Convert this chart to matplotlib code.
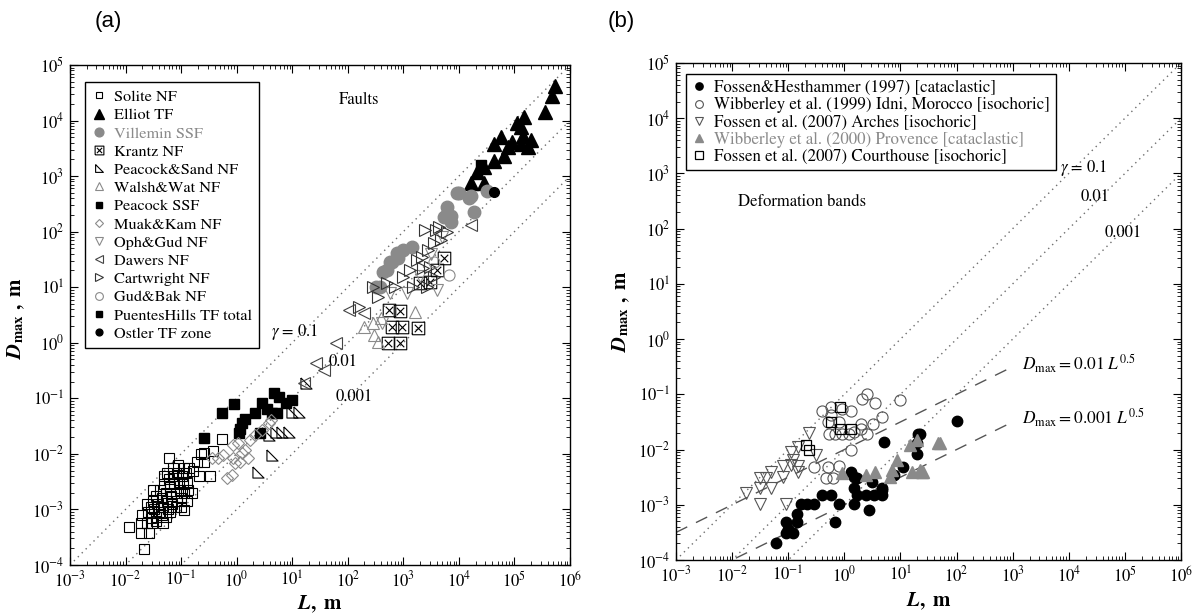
import numpy as np
import matplotlib
matplotlib.use('Agg')
import matplotlib.pyplot as plt
from matplotlib.path import Path
from matplotlib.ticker import LogLocator, NullFormatter

plt.rcParams['font.family'] = ['STIXGeneral', 'DejaVu Serif']
plt.rcParams['mathtext.fontset'] = 'stix'

GRAY = '#8a8a8a'

# ---- panel (a) data, (log10 L, log10 Dmax) ----
solite = [(-1.94,-3.31),(-1.73,-3.25),(-1.61,-3.25),(-1.73,-3.43),(-1.58,-3.43),(-1.67,-3.72),
          (-1.52,-3.25),(-1.33,-3.25),(-1.46,-3.13),(-1.27,-3.13),(-0.94,-3.01),(-1.21,-2.08),
          (-0.27,-1.74),(-0.42,-1.94),(-0.58,-1.98),(-0.58,-2.14),(-0.48,-2.40),(-0.85,-2.26),
          (-1.60,-3.05),(-1.55,-2.95),(-1.50,-2.85),(-1.48,-3.00),(-1.45,-2.75),(-1.42,-2.90),
          (-1.40,-3.05),(-1.38,-2.65),(-1.35,-2.80),(-1.33,-2.95),(-1.30,-2.55),(-1.28,-2.70),
          (-1.26,-2.85),(-1.24,-3.00),(-1.22,-2.45),(-1.20,-2.60),(-1.18,-2.75),(-1.16,-2.90),
          (-1.14,-2.40),(-1.12,-2.55),(-1.10,-2.70),(-1.08,-2.85),(-1.06,-2.35),(-1.04,-2.50),
          (-1.02,-2.65),(-1.00,-2.80),(-0.98,-2.40),(-0.96,-2.55),(-0.94,-2.70),(-0.92,-2.35),
          (-0.90,-2.50),(-0.88,-2.65),(-1.55,-3.15),(-1.45,-3.20),(-1.35,-3.10),(-1.25,-2.35),
          (-1.15,-2.25),(-1.05,-2.20),(-0.95,-2.25),(-1.30,-2.40),(-1.50,-2.65),(-1.62,-2.90),
          (-1.70,-3.10),(-1.20,-3.05),(-1.10,-2.95),(-1.00,-2.95),(-0.90,-2.85),(-0.80,-2.70),
          (-0.78,-2.30),(-0.72,-2.15),(-0.68,-2.40),(-0.65,-2.00)]
elliot = [(5.73,4.63),(5.67,4.45),(5.55,4.15),(5.18,4.06),(5.12,3.88),(5.15,3.73),(4.76,3.70),
          (4.64,3.58),(4.88,3.52),(5.12,3.58),(5.24,3.52),(4.82,3.37),(4.64,3.28),(4.45,3.16),
          (4.33,3.07),(4.21,2.87),(4.45,2.87),(5.05,3.95),(4.95,3.62),(5.30,3.65)]
villemin = [(3.97,2.69),(4.18,2.60),(3.79,2.45),(3.85,2.29),(4.27,2.35),(3.73,2.27),(3.00,1.67),
            (2.91,1.52),(2.79,1.46),(2.70,1.31),(2.64,1.28),(2.58,1.01),(3.15,1.72),(4.00,2.69),
            (4.21,2.65),(4.51,2.74),(3.79,2.32),(3.85,2.17),(2.88,1.61),(2.76,1.46),(2.51,1.01)]
krantz = [(2.75,0.59),(2.94,0.58),(2.79,0.29),(2.97,0.29),(3.27,0.26),(2.73,0.00),(2.94,0.00),
          (3.73,1.52),(3.61,1.31),(3.48,1.10),(3.30,1.07)]
peacock_sand = [(0.58,-1.66),(0.70,-1.60),(0.82,-1.60),(0.94,-1.60),(1.12,-1.24),(1.00,-1.24),
                (0.64,-2.02),(0.39,-2.32),(1.24,-0.73)]
walsh = [(3.21,0.56),(2.30,0.29),(2.48,0.14),(2.55,0.02),(2.45,0.35),(2.60,0.45)]
peacock_ssf = [(-0.59,-1.72),(-0.26,-1.27),(-0.04,-1.11),(0.06,-1.56),(0.15,-1.38),(0.33,-1.27),
               (0.42,-1.62),(0.45,-1.09),(0.64,-1.27),(0.67,-0.91),(0.73,-1.27),(0.76,-0.97),
               (0.88,-1.09),(1.00,-1.03),(0.10,-1.45),(0.05,-1.62),(0.55,-1.20)]
muak = [(-0.18,-2.44),(-0.09,-2.38),(-0.03,-2.17),(0.06,-2.14),(0.21,-2.08),(-0.06,-2.08),
        (0.09,-1.99),(0.15,-1.93),(0.03,-1.81),(0.24,-1.75),(0.33,-1.66),(0.45,-1.57),
        (0.58,-1.45),(0.61,-1.39),(-0.33,-2.08),(-0.45,-2.08),(-0.24,-2.02),(-0.06,-1.84)]
oph = [(2.61,0.35),(3.61,0.95),(3.06,0.89),(2.76,0.89),(3.30,1.20),(3.50,1.60),(3.70,1.90)]
dawers = [(2.03,0.59),(2.30,0.53),(1.79,-0.01),(1.42,-0.37),(1.58,-0.49),(1.21,-0.73),(4.21,2.12)]
cartwright = [(2.45,1.01),(2.55,0.83),(2.70,1.07),(2.85,1.01),(3.00,1.19),(3.12,1.31),(3.24,1.49),
              (3.33,1.55),(3.36,1.34),(3.48,1.37),(3.45,1.67),(3.55,1.79),(3.58,2.03),(3.64,2.09),
              (3.67,1.85),(3.55,1.19),(3.42,1.01),(3.18,1.01),(3.39,2.03),(3.79,2.00),(2.20,0.65)]
gud = [(3.82,1.22),(3.55,1.45)]
puentes = [(4.40,3.20)]
ostler = [(4.64,2.71)]

# ---- panel (b) data ----
fossen_h = [(-1.22,-3.69),(-1.04,-3.52),(-0.92,-3.52),(-1.01,-3.43),(-1.04,-3.31),(-0.84,-3.31),
            (-0.85,-3.16),(-0.78,-2.99),(-0.66,-2.99),(-0.54,-2.99),(-0.39,-2.83),(-0.24,-2.83),
            (-0.16,-3.31),(-0.09,-2.99),(0.11,-2.40),(0.17,-2.49),(0.23,-2.52),(0.17,-2.70),
            (0.23,-2.83),(0.38,-2.83),(0.53,-2.83),(0.67,-2.83),(0.17,-2.99),(0.44,-3.10),
            (0.49,-2.58),(0.67,-2.70),(0.70,-1.86),(1.05,-2.31),(1.32,-1.71),(1.29,-1.89),
            (1.29,-2.08),(0.88,-2.46),(2.00,-1.48),(1.35,-1.72),(0.67,-2.73)]
wibb99 = [(-0.39,-1.30),(-0.24,-1.23),(-0.24,-1.38),(-0.04,-1.26),(0.11,-1.30),(0.32,-1.08),
          (0.41,-1.00),(0.55,-1.16),(1.00,-1.11),(-0.30,-1.50),(-0.09,-1.50),(0.29,-1.53),
          (0.67,-1.41),(0.51,-1.53),(-0.27,-1.71),(-0.16,-1.71),(-0.04,-1.71),(0.08,-1.71),
          (0.17,-1.68),(0.29,-1.62),(0.41,-1.71),(0.11,-2.00),(-0.54,-2.31),(-0.30,-2.31),
          (-0.09,-2.30),(-0.33,-2.52),(-0.21,-2.52)]
arches = [(-0.63,-1.70),(-0.95,-2.04),(-0.83,-1.96),(-0.92,-2.19),(-1.10,-2.30),(-0.95,-2.28),
          (-0.83,-2.30),(-0.83,-2.40),(-1.31,-2.40),(-1.51,-2.52),(-1.40,-2.52),(-1.10,-2.50),
          (-1.51,-2.70),(-1.31,-2.70),(-1.75,-2.79),(-1.51,-2.99),(-1.04,-2.99),(-0.51,-2.10)]
wibb00 = [(-0.04,-2.43),(0.38,-2.46),(0.55,-2.40),(0.82,-2.49),(0.85,-2.37),(1.17,-1.92),
          (1.35,-2.37),(1.41,-2.40),(1.67,-1.88),(0.94,-2.19),(1.29,-1.83),(1.70,-1.89),
          (1.20,-2.40),(1.38,-2.40)]
courthouse = [(-0.07,-1.23),(-0.24,-1.50),(-0.07,-1.62),(0.11,-1.62),(-0.69,-1.92),(-0.63,-2.01)]

gammas = [0.1, 0.01, 0.001]
coefs = [0.01, 0.001]

# custom markers
boxx = Path([(-1,-1),(1,-1),(1,1),(-1,1),(-1,-1),(-0.6,-0.6),(0.6,0.6),(-0.6,0.6),(0.6,-0.6)],
            [1,2,2,2,2,1,2,1,2])
rtri = Path([(-1,1),(-1,-1),(1,-1),(-1,1)], [1,2,2,2])


def pts(a):
    a = np.array(a)
    return 10.0**a[:, 0], 10.0**a[:, 1]


def setup(ax):
    ax.set_xscale('log')
    ax.set_yscale('log')
    ax.set_xlim(1e-3, 1e6)
    ax.set_ylim(1e-4, 1e5)
    ax.set_xticks([10.0**k for k in range(-3, 7)])
    ax.set_yticks([10.0**k for k in range(-4, 6)])
    for axis in (ax.xaxis, ax.yaxis):
        axis.set_minor_locator(LogLocator(base=10, subs=np.arange(2, 10), numticks=100))
        axis.set_minor_formatter(NullFormatter())
    ax.tick_params(which='both', direction='in', top=True, right=True, labelsize=12)
    ax.tick_params(which='major', length=6, width=0.8, pad=4)
    ax.tick_params(which='minor', length=3, width=0.6)
    for s in ax.spines.values():
        s.set_linewidth(1.0)
    ax.set_xlabel(r'$\mathbfit{L}\mathbf{,\ m}$', fontsize=15)
    ax.set_ylabel(r'$\mathbfit{D}_{\mathbf{max}}\mathbf{\ ,\ m}$', fontsize=15)
    lx = np.array([1e-3, 1e6])
    for g in gammas:
        ax.plot(lx, g * lx, color='#6e6e6e', lw=1.0, ls=(0, (1, 3)), zorder=1)


fig = plt.figure(figsize=(11.98, 6.16), dpi=100)
ax1 = fig.add_axes([0.0584, 0.0828, 0.4174, 0.8117])
ax2 = fig.add_axes([0.5643, 0.0909, 0.4215, 0.8068])
setup(ax1)
setup(ax2)
ax1.yaxis.set_label_coords(-0.086, 0.494)
ax2.yaxis.set_label_coords(-0.087, 0.5)
ax1.xaxis.set_label_coords(0.5, -0.058)
ax2.xaxis.set_label_coords(0.5, -0.062)

# panel (a)
kw = dict(ls='none')
ax1.plot(*pts(solite), marker='s', ms=7, mfc='none', mec='k', mew=0.8, label='Solite NF', **kw)
ax1.plot(*pts(elliot), marker='^', ms=9.5, mfc='k', mec='k', label='Elliot TF', **kw)
ax1.plot(*pts(villemin), marker='o', ms=9, mfc=GRAY, mec=GRAY, label='Villemin SSF', **kw)
ax1.plot(*pts(krantz), marker=boxx, ms=9, mfc='none', mec='k', mew=0.8, label='Krantz NF', **kw)
ax1.plot(*pts(peacock_sand), marker=rtri, ms=8, mfc='none', mec='k', mew=0.8, label='Peacock&Sand NF', **kw)
ax1.plot(*pts(walsh), marker='^', ms=8, mfc='none', mec=GRAY, mew=0.8, label='Walsh&Wat NF', **kw)
ax1.plot(*pts(peacock_ssf), marker='s', ms=7, mfc='k', mec='k', label='Peacock SSF', **kw)
ax1.plot(*pts(muak), marker='D', ms=6.5, mfc='none', mec=GRAY, mew=0.8, label='Muak&Kam NF', **kw)
ax1.plot(*pts(oph), marker='v', ms=8, mfc='none', mec=GRAY, mew=0.8, label='Oph&Gud NF', **kw)
ax1.plot(*pts(dawers), marker='<', ms=8, mfc='none', mec='#444444', mew=0.8, label='Dawers NF', **kw)
ax1.plot(*pts(cartwright), marker='>', ms=9, mfc='none', mec='#333333', mew=0.8, label='Cartwright NF', **kw)
ax1.plot(*pts(gud), marker='o', ms=8, mfc='none', mec=GRAY, mew=0.8, label='Gud&Bak NF', **kw)
ax1.plot(*pts(puentes), marker='s', ms=7, mfc='k', mec='k', label='PuentesHills TF total', **kw)
ax1.plot(*pts(ostler), marker='o', ms=7, mfc='k', mec='k', label='Ostler TF zone', **kw)

leg1 = ax1.legend(loc='upper left', bbox_to_anchor=(0.031, 0.965), borderaxespad=0,
                  fontsize=11.7, handlelength=0.8, handletextpad=0.5, labelspacing=0.235,
                  borderpad=0.45, fancybox=False, edgecolor='k', framealpha=1, markerscale=0.7)
leg1.get_frame().set_linewidth(1.0)
leg1.get_texts()[2].set_color(GRAY)

ax1.text(10**1.05, 10**0.2, r'$\gamma$ = 0.1', fontsize=12, ha='center', va='center')
ax1.text(10**1.92, 10**-0.34, '0.01', fontsize=12, ha='center', va='center')
ax1.text(10**2.12, 10**-0.97, '0.001', fontsize=12, ha='center', va='center')
ax1.text(10**2.2, 10**4.37, 'Faults', fontsize=12, ha='center', va='center')

# panel (b)
lb = np.array([1e-3, 1e3])
for c in coefs:
    ax2.plot(lb, c * lb**0.5, color='#555555', lw=1.0, ls=(0, (9, 7)), zorder=1)
ax2.plot(*pts(fossen_h), marker='o', ms=7.5, mfc='k', mec='k',
         label='Fossen&Hesthammer (1997) [cataclastic]', **kw)
ax2.plot(*pts(wibb99), marker='o', ms=8, mfc='none', mec='#555555', mew=0.8,
         label='Wibberley et al. (1999) Idni, Morocco [isochoric]', **kw)
ax2.plot(*pts(arches), marker='v', ms=8.5, mfc='none', mec='#555555', mew=0.8,
         label='Fossen et al. (2007) Arches [isochoric]', **kw)
ax2.plot(*pts(wibb00), marker='^', ms=8, mfc=GRAY, mec=GRAY,
         label='Wibberley et al. (2000) Provence [cataclastic]', **kw)
ax2.plot(*pts(courthouse), marker='s', ms=7.5, mfc='none', mec='k', mew=0.9,
         label='Fossen et al. (2007) Courthouse [isochoric]', **kw)

leg2 = ax2.legend(loc='upper left', bbox_to_anchor=(0.0198, 0.977), borderaxespad=0,
                  fontsize=12.2, handlelength=0.8, handletextpad=0.5, labelspacing=0.06,
                  borderpad=0.35, fancybox=False, edgecolor='k', framealpha=1, markerscale=0.7)
leg2.get_frame().set_linewidth(1.0)
leg2.get_texts()[3].set_color(GRAY)

ax2.text(10**-0.76, 10**2.48, 'Deformation bands', fontsize=12, ha='center', va='center')
ax2.text(10**3.85, 10**3.10, r'$\gamma$ = 0.1', fontsize=12, ha='left', va='center', zorder=6)
ax2.text(10**4.47, 10**2.58, '0.01', fontsize=12, ha='center', va='center')
ax2.text(10**4.97, 10**1.92, '0.001', fontsize=12, ha='center', va='center')
ax2.text(10**3.17, 10**-0.44, r'$D_{\rm max} = 0.01\ L^{0.5}$', fontsize=12.5, ha='left', va='center')
ax2.text(10**3.17, 10**-1.43, r'$D_{\rm max} = 0.001\ L^{0.5}$', fontsize=12.5, ha='left', va='center')

fig.text(0.079, 0.965, '(a)', fontsize=16, family='Liberation Sans', ha='left', va='center')
fig.text(0.507, 0.965, '(b)', fontsize=16, family='Liberation Sans', ha='left', va='center')

fig.savefig('out.png', dpi=100)
